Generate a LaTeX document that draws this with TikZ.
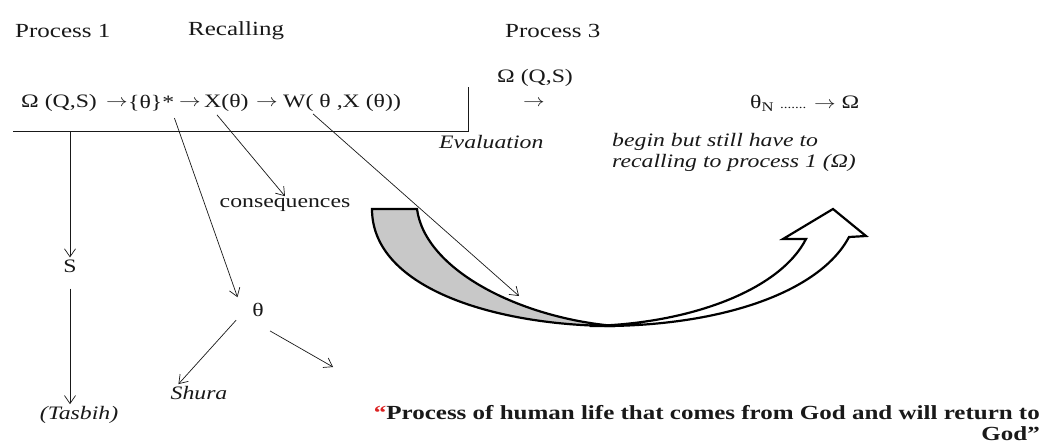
\documentclass[tikz,border=0pt]{standalone}
\usepackage{graphicx}
\usepackage{fontspec}
\setmainfont{Liberation Serif}[FakeStretch=1.25]
\usetikzlibrary{arrows.meta}
\definecolor{ink}{RGB}{25,25,25}
\definecolor{tailgray}{RGB}{200,200,200}
\definecolor{quotered}{RGB}{220,35,35}
\newcommand{\longto}{\scalebox{1.25}[1]{$\rightarrow$}}

\begin{document}
\begin{tikzpicture}[x=1pt, y=-1pt,
    lbl/.style={font=\fontsize{19}{21}\selectfont, text=ink, inner sep=2pt},
    head/.style={lbl, font=\fontsize{20}{22}\selectfont},
    note/.style={lbl, font=\fontsize{19}{21}\selectfont\itshape},
    bold/.style={lbl, font=\fontsize{20}{22}\selectfont\bfseries},
    arr/.style={draw=ink, line width=0.7pt, -{Straight Barb[length=8pt,width=11pt]}},
    band/.style={draw=black, line width=2.2pt}]
  \fill[white] (0,0) rectangle (1052,444);
  \useasboundingbox (0,0) rectangle (1052,444);

  \node[head, anchor=west] (proc1) at (13,31) {Process 1};
  \node[head, anchor=west] (recall) at (186,31) {Recalling};
  \node[head, anchor=west] (proc3) at (503,31) {Process 3};

  \node[lbl, anchor=west] (omega) at (19,103) {Ω (Q,S)};
  \node[lbl, anchor=west, inner sep=0pt] (ar1) at (106,103) {\longto};
  \node[lbl, anchor=west] (thset) at (126,103) {\{θ\}*};
  \node[lbl, anchor=west, inner sep=0pt] (ar2) at (179,103) {\longto};
  \node[lbl, anchor=west] (xth) at (202,103) {X(θ)};
  \node[lbl, anchor=west, inner sep=0pt] (ar3) at (256,103) {\longto};
  \node[lbl, anchor=west] (wth) at (281,103) {W( θ ,X (θ))};

  \node[lbl, anchor=west] (omega3) at (495,78) {Ω (Q,S)};
  \node[lbl, anchor=west] (ar4) at (521,103) {\longto};
  \node[lbl, anchor=west] (thetaN) at (748,103) {θ\textsubscript{N} {\fontsize{12}{12}\selectfont .......} \longto{} Ω};
  \node[note, anchor=west] (eval) at (437,142) {Evaluation};
  \node[note, anchor=west, align=left] (begin) at (610,152) {begin but still have to\\recalling to process 1 (Ω)};

  \draw[draw=ink, line width=0.9pt] (13,131) -| (468,87);
  \coordinate (hs) at (70,131);

  \node[lbl] (sval) at (70,266) {S};
  \node[note] (tasbih) at (79,415) {(Tasbih)};
  \node[lbl] (cons) at (285,205) {consequences};
  \node[lbl, circle, minimum size=48pt] (theta) at (258,310) {θ};
  \node[note] (shura) at (199,393) {Shura};
  \coordinate (wend) at (519,296);
  \coordinate (thend) at (333,367);

  \draw[arr] (hs) -- (sval);
  \draw[arr] ([yshift=-14pt]sval.south) -- (sval.south |- tasbih.north);
  \draw[arr] ([xshift=-2pt,yshift=-5pt]thset.south east) -- (theta.148);
  \draw[arr] ([xshift=15pt,yshift=-1pt]xth.south west) -- (cons.north);
  \draw[arr] ([xshift=32pt]wth.south west) -- (wend);
  \draw[arr] (theta.205) -- ([xshift=10pt]shura.north west);
  \draw[arr] (theta.-60) -- (thend);

  \draw[band, fill=tailgray] (372,209) -- (417,209) .. controls (425,270) and (520,318) .. (615,326)
    .. controls (500,326) and (372,290) .. (372,209) -- cycle;
  \draw[band, fill=white] (590,326) .. controls (690,324) and (780,290) .. (806,239) -- (783,239)
    -- (833,209) -- (866,236) -- (849,237) .. controls (820,292) and (720,328) .. (590,326) -- cycle;

  \node[bold, anchor=east] (quote1) at (1042,413) {\textcolor{quotered}{“}Process of human life that comes from God and will return to};
  \node[bold, anchor=east] (quote2) at (1042,434) {God”};
\end{tikzpicture}
\end{document}
